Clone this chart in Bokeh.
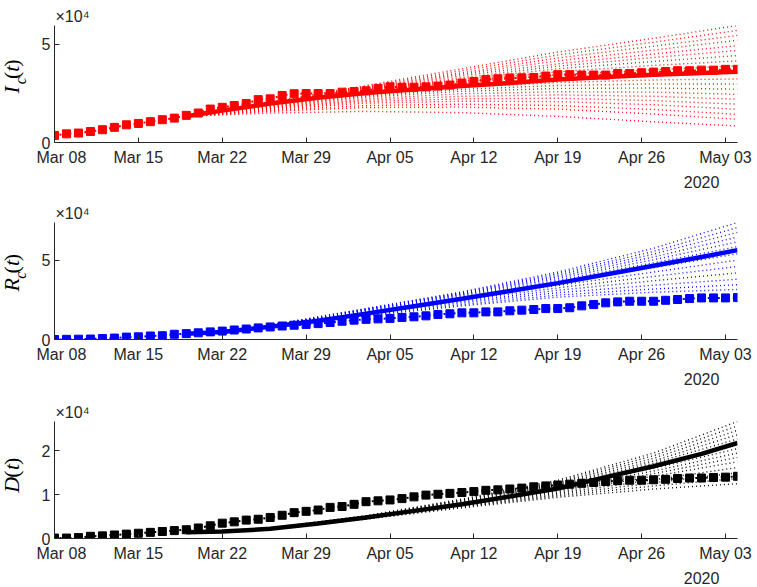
import numpy as np
import pandas as pd
from bokeh.plotting import figure
from bokeh.layouts import column, row
from bokeh.models import (Range1d, FixedTicker, DatetimeTickFormatter, Title,
                          DatetimeAxis)
from bokeh.core.properties import value
from bokeh.embed import file_html
from bokeh.resources import INLINE

# ---------------- data (values in units of 1e4) ----------------
obs_dates = pd.date_range("2020-03-08", "2020-05-04", freq="D")
tick_dates = pd.to_datetime(["2020-03-08", "2020-03-15", "2020-03-22", "2020-03-29",
                             "2020-04-05", "2020-04-12", "2020-04-19", "2020-04-26",
                             "2020-05-03"])
year_date = pd.to_datetime(["2020-05-01"])
scale_label = "\u00d710\u2074"

ic_obs = [0.36, 0.44, 0.48, 0.56, 0.65, 0.77, 0.90, 0.97, 1.06, 1.16, 1.24, 1.38, 1.50,
          1.70, 1.79, 1.88, 1.98, 2.18, 2.22, 2.39, 2.48, 2.49, 2.49, 2.49, 2.56, 2.59,
          2.63, 2.75, 2.83, 2.81, 2.81, 2.83, 2.87, 2.92, 3.02, 3.10, 3.20, 3.24, 3.28,
          3.29, 3.31, 3.38, 3.45, 3.45, 3.43, 3.43, 3.43, 3.51, 3.51, 3.55, 3.58, 3.61,
          3.65, 3.65, 3.68, 3.68, 3.72, 3.72]
rc_obs = [0.00, 0.01, 0.02, 0.03, 0.06, 0.09, 0.15, 0.17, 0.22, 0.24, 0.33,
          0.37, 0.42, 0.48, 0.53, 0.60, 0.66, 0.73, 0.79, 0.85, 0.90, 0.95, 1.00, 1.07,
          1.15, 1.22, 1.27,
          1.30, 1.33, 1.39, 1.43, 1.49, 1.58, 1.62, 1.68, 1.68, 1.74, 1.74, 1.81, 1.85,
          1.89, 1.95, 1.95, 2.00, 2.12, 2.20, 2.31, 2.37, 2.41, 2.41, 2.41, 2.47, 2.52,
          2.58, 2.62, 2.62, 2.62, 2.64]
d_obs = [0.01, 0.01, 0.02, 0.05, 0.06, 0.08, 0.10, 0.12, 0.14, 0.16, 0.18, 0.20, 0.24,
         0.29, 0.35, 0.38, 0.42, 0.44, 0.48, 0.53, 0.59, 0.62, 0.65, 0.71, 0.73, 0.78,
         0.84,
         0.86, 0.88, 0.91, 0.95, 0.99, 1.01, 1.03, 1.05, 1.07, 1.10, 1.11, 1.13, 1.15,
         1.18, 1.20, 1.22, 1.24, 1.26, 1.28, 1.30, 1.32, 1.33, 1.33, 1.34, 1.35, 1.37,
         1.38, 1.38, 1.39, 1.40, 1.42]

fit_days = [11, 14, 18, 22, 26, 30, 34, 38, 42, 46, 50, 54, 57]
ic_fit = [1.33, 1.62, 1.98, 2.28, 2.52, 2.70, 2.87, 3.03, 3.20, 3.33, 3.45, 3.54, 3.60]
rc_fit = [0.36, 0.47, 0.80, 1.18, 1.63, 2.10, 2.57, 3.05, 3.55, 4.10, 4.65, 5.20, 5.63]
d_fit = [0.14, 0.16, 0.22, 0.34, 0.48, 0.63, 0.78, 0.96, 1.14, 1.40, 1.65, 1.93, 2.18]

ens_days = [11, 18, 26, 34, 42, 50, 57]
ic_ens = [
    [1.33, 2.05, 2.90, 3.75, 4.60, 5.30, 5.95],
    [1.33, 2.03, 2.85, 3.65, 4.45, 5.10, 5.70],
    [1.33, 2.00, 2.80, 3.55, 4.30, 4.90, 5.44],
    [1.33, 1.99, 2.75, 3.48, 4.15, 4.70, 5.20],
    [1.33, 1.98, 2.70, 3.40, 4.00, 4.50, 4.93],
    [1.33, 1.96, 2.66, 3.30, 3.88, 4.32, 4.68],
    [1.33, 1.95, 2.62, 3.22, 3.75, 4.12, 4.42],
    [1.33, 1.94, 2.58, 3.13, 3.60, 3.92, 4.15],
    [1.33, 1.92, 2.55, 3.05, 3.45, 3.70, 3.90],
    [1.33, 1.88, 2.42, 2.80, 3.05, 3.18, 3.23],
    [1.33, 1.85, 2.36, 2.70, 2.90, 2.98, 2.97],
    [1.33, 1.82, 2.30, 2.60, 2.75, 2.77, 2.71],
    [1.33, 1.78, 2.22, 2.48, 2.58, 2.56, 2.45],
    [1.33, 1.75, 2.15, 2.35, 2.42, 2.35, 2.20],
    [1.33, 1.72, 2.08, 2.22, 2.25, 2.13, 1.95],
    [1.33, 1.68, 2.00, 2.10, 2.08, 1.92, 1.69],
    [1.33, 1.63, 1.88, 1.95, 1.88, 1.68, 1.43],
    [1.33, 1.58, 1.78, 1.80, 1.70, 1.45, 1.18],
    [1.33, 1.50, 1.58, 1.52, 1.33, 1.05, 0.84],
]
rc_ens = [
    [0.34, 0.90, 1.95, 3.00, 4.25, 5.75, 7.37],
    [0.34, 0.89, 1.93, 2.95, 4.15, 5.55, 7.05],
    [0.34, 0.88, 1.90, 2.90, 4.05, 5.38, 6.75],
    [0.34, 0.87, 1.87, 2.85, 3.95, 5.20, 6.45],
    [0.34, 0.86, 1.84, 2.80, 3.85, 5.02, 6.15],
    [0.34, 0.85, 1.80, 2.73, 3.73, 4.83, 5.85],
    [0.34, 0.84, 1.75, 2.63, 3.55, 4.53, 5.40],
    [0.34, 0.83, 1.70, 2.55, 3.40, 4.25, 5.00],
    [0.34, 0.82, 1.66, 2.47, 3.25, 3.97, 4.60],
    [0.34, 0.81, 1.62, 2.38, 3.10, 3.70, 4.20],
    [0.34, 0.80, 1.57, 2.30, 2.95, 3.42, 3.80],
    [0.34, 0.79, 1.52, 2.20, 2.80, 3.18, 3.45],
    [0.34, 0.78, 1.47, 2.12, 2.67, 2.98, 3.15],
]
d_ens = [
    [0.14, 0.24, 0.52, 0.90, 1.33, 1.95, 2.67],
    [0.14, 0.24, 0.51, 0.88, 1.30, 1.89, 2.57],
    [0.14, 0.23, 0.51, 0.87, 1.27, 1.83, 2.47],
    [0.14, 0.23, 0.50, 0.85, 1.24, 1.77, 2.37],
    [0.14, 0.23, 0.50, 0.83, 1.21, 1.72, 2.27],
    [0.14, 0.22, 0.49, 0.80, 1.15, 1.60, 2.05],
    [0.14, 0.22, 0.48, 0.79, 1.12, 1.54, 1.95],
    [0.14, 0.22, 0.48, 0.77, 1.09, 1.48, 1.85],
    [0.14, 0.21, 0.47, 0.76, 1.06, 1.42, 1.75],
    [0.14, 0.21, 0.46, 0.75, 1.03, 1.34, 1.62],
    [0.14, 0.21, 0.46, 0.73, 1.00, 1.27, 1.50],
    [0.14, 0.20, 0.45, 0.72, 0.97, 1.20, 1.37],
    [0.14, 0.20, 0.44, 0.70, 0.94, 1.13, 1.25],
]

UNIT = 1e4
y_ticks_top = [0, 5]
y_ticks_mid = [0, 5]
y_ticks_bot = [0, 1, 2]

# ---------------- styling ----------------
AX = "#262626"
FONT = "Liberation Sans"
SERIF = "Liberation Serif"
SIDE_W = 36
MAIN_W = 757 - SIDE_W
FRAME_W, FRAME_H = 683, 117
BL = 54 - SIDE_W
BR = MAIN_W - BL - FRAME_W


def day_dates(days):
    return [obs_dates[0] + pd.Timedelta(days=int(d)) for d in days]


def all_fmt(f):
    return DatetimeTickFormatter(microseconds=f, milliseconds=f, seconds=f, minsec=f,
                                 minutes=f, hourmin=f, hours=f, days=f, months=f,
                                 years=f)


def panel(obs, fit, ens, color, ticks, height, top):
    ymax = max(max(r) for r in ens) * UNIT
    p = figure(width=MAIN_W, height=height, x_axis_type="datetime",
               output_backend="svg", toolbar_location=None,
               x_range=Range1d(obs_dates[0], obs_dates[-1]),
               y_range=Range1d(0, ymax),
               min_border_left=BL, min_border_right=BR,
               min_border_top=top, min_border_bottom=height - top - FRAME_H)
    p.outline_line_color = None
    p.grid.visible = False
    p.background_fill_color = "white"
    p.border_fill_color = "white"

    ed = day_dates(ens_days)
    for r in ens:
        p.line(ed, [v * UNIT for v in r], line_color=color, line_width=1.4,
               line_dash="1 3", line_alpha=0.95)
    ov = [v * UNIT for v in obs]
    p.line(obs_dates, ov, line_color=color, line_width=2, line_dash="2 3")
    p.scatter(obs_dates, ov, marker="square", size=8, fill_color=color,
              line_color=color)
    p.line(day_dates(fit_days), [v * UNIT for v in fit], line_color=color,
           line_width=4.5)

    for ax in (p.xaxis[0], p.yaxis[0]):
        ax.axis_line_color = AX
        ax.major_tick_line_color = AX
        ax.major_tick_in = 5
        ax.major_tick_out = 0
        ax.minor_tick_line_color = None
        ax.major_label_text_font = FONT
        ax.major_label_text_font_size = "16px"
        ax.major_label_text_color = AX
    p.xaxis.ticker = FixedTicker(ticks=[t.value // 10**6 for t in tick_dates])
    p.xaxis.formatter = all_fmt("%b %d")
    p.xaxis.major_label_standoff = 6
    p.yaxis.ticker = FixedTicker(ticks=[t * UNIT for t in ticks])
    p.yaxis.major_label_overrides = {t * UNIT: str(t) for t in ticks}
    p.yaxis.major_label_standoff = 4

    # year label as a second, bare date axis
    yax = DatetimeAxis(ticker=FixedTicker(ticks=[t.value // 10**6 for t in year_date]),
                       formatter=all_fmt("%Y"), axis_line_color=None,
                       major_tick_line_color=None, minor_tick_line_color=None,
                       major_label_standoff=1, major_label_text_font=FONT,
                       major_label_text_font_size="16px", major_label_text_color=AX)
    p.add_layout(yax, "below")

    # x10^4 multiplier
    p.add_layout(Title(text=scale_label, align="left", offset=1, standoff=2,
                       text_font=FONT, text_font_size="16px", text_font_style="normal",
                       text_color=AX), "above")
    return p


def side(height, frame_bottom, pieces):
    s = figure(width=SIDE_W, height=height, x_range=Range1d(0, SIDE_W),
               y_range=Range1d(0, height), output_backend="svg",
               toolbar_location=None, x_axis_location=None, y_axis_location=None,
               min_border=0)
    s.outline_line_color = None
    s.grid.visible = False
    for txt, yy, xx, size, style in pieces:
        s.text(x=[xx], y=[frame_bottom + yy], text=[txt], angle=np.pi / 2,
               text_font=value(SERIF), text_font_size=value(size),
               text_font_style=value(style), text_color="black",
               text_baseline="middle", text_align="center")
    return s


# (text, centre above frame bottom, centre x, size, style)
lab_ic = [("I", 33, 10.5, "22px", "italic"), ("c", 48.5, 19.5, "16px", "italic"),
          ("(", 57.5, 10.5, "22px", "normal"), ("t", 69, 10.5, "22px", "italic"),
          (")", 78.5, 10.5, "22px", "normal")]
lab_rc = [("R", 35, 10.5, "22px", "italic"), ("c", 51.5, 19.5, "16px", "italic"),
          ("(", 60.5, 10.5, "22px", "normal"), ("t", 72, 10.5, "22px", "italic"),
          (")", 81.5, 10.5, "22px", "normal")]
lab_d = [("D", 38, 10.5, "22px", "italic"), ("(", 55.5, 10.5, "22px", "normal"),
         ("t", 67, 10.5, "22px", "italic"), (")", 76.5, 10.5, "22px", "normal")]

H1, T1 = 198, 25
H2, T2 = 199, 24
H3, T3 = 190, 24

p1 = panel(ic_obs, ic_fit, ic_ens, "#ff0000", y_ticks_top, H1, T1)
p2 = panel(rc_obs, rc_fit, rc_ens, "#0000ff", y_ticks_mid, H2, T2)
p3 = panel(d_obs, d_fit, d_ens, "#000000", y_ticks_bot, H3, T3)
s1 = side(H1, H1 - T1 - FRAME_H, lab_ic)
s2 = side(H2, H2 - T2 - FRAME_H, lab_rc)
s3 = side(H3, H3 - T3 - FRAME_H, lab_d)

layout = column(row(s1, p1, spacing=0), row(s2, p2, spacing=0),
                row(s3, p3, spacing=0), spacing=0)
open("out.html", "w").write(file_html(layout, INLINE))
